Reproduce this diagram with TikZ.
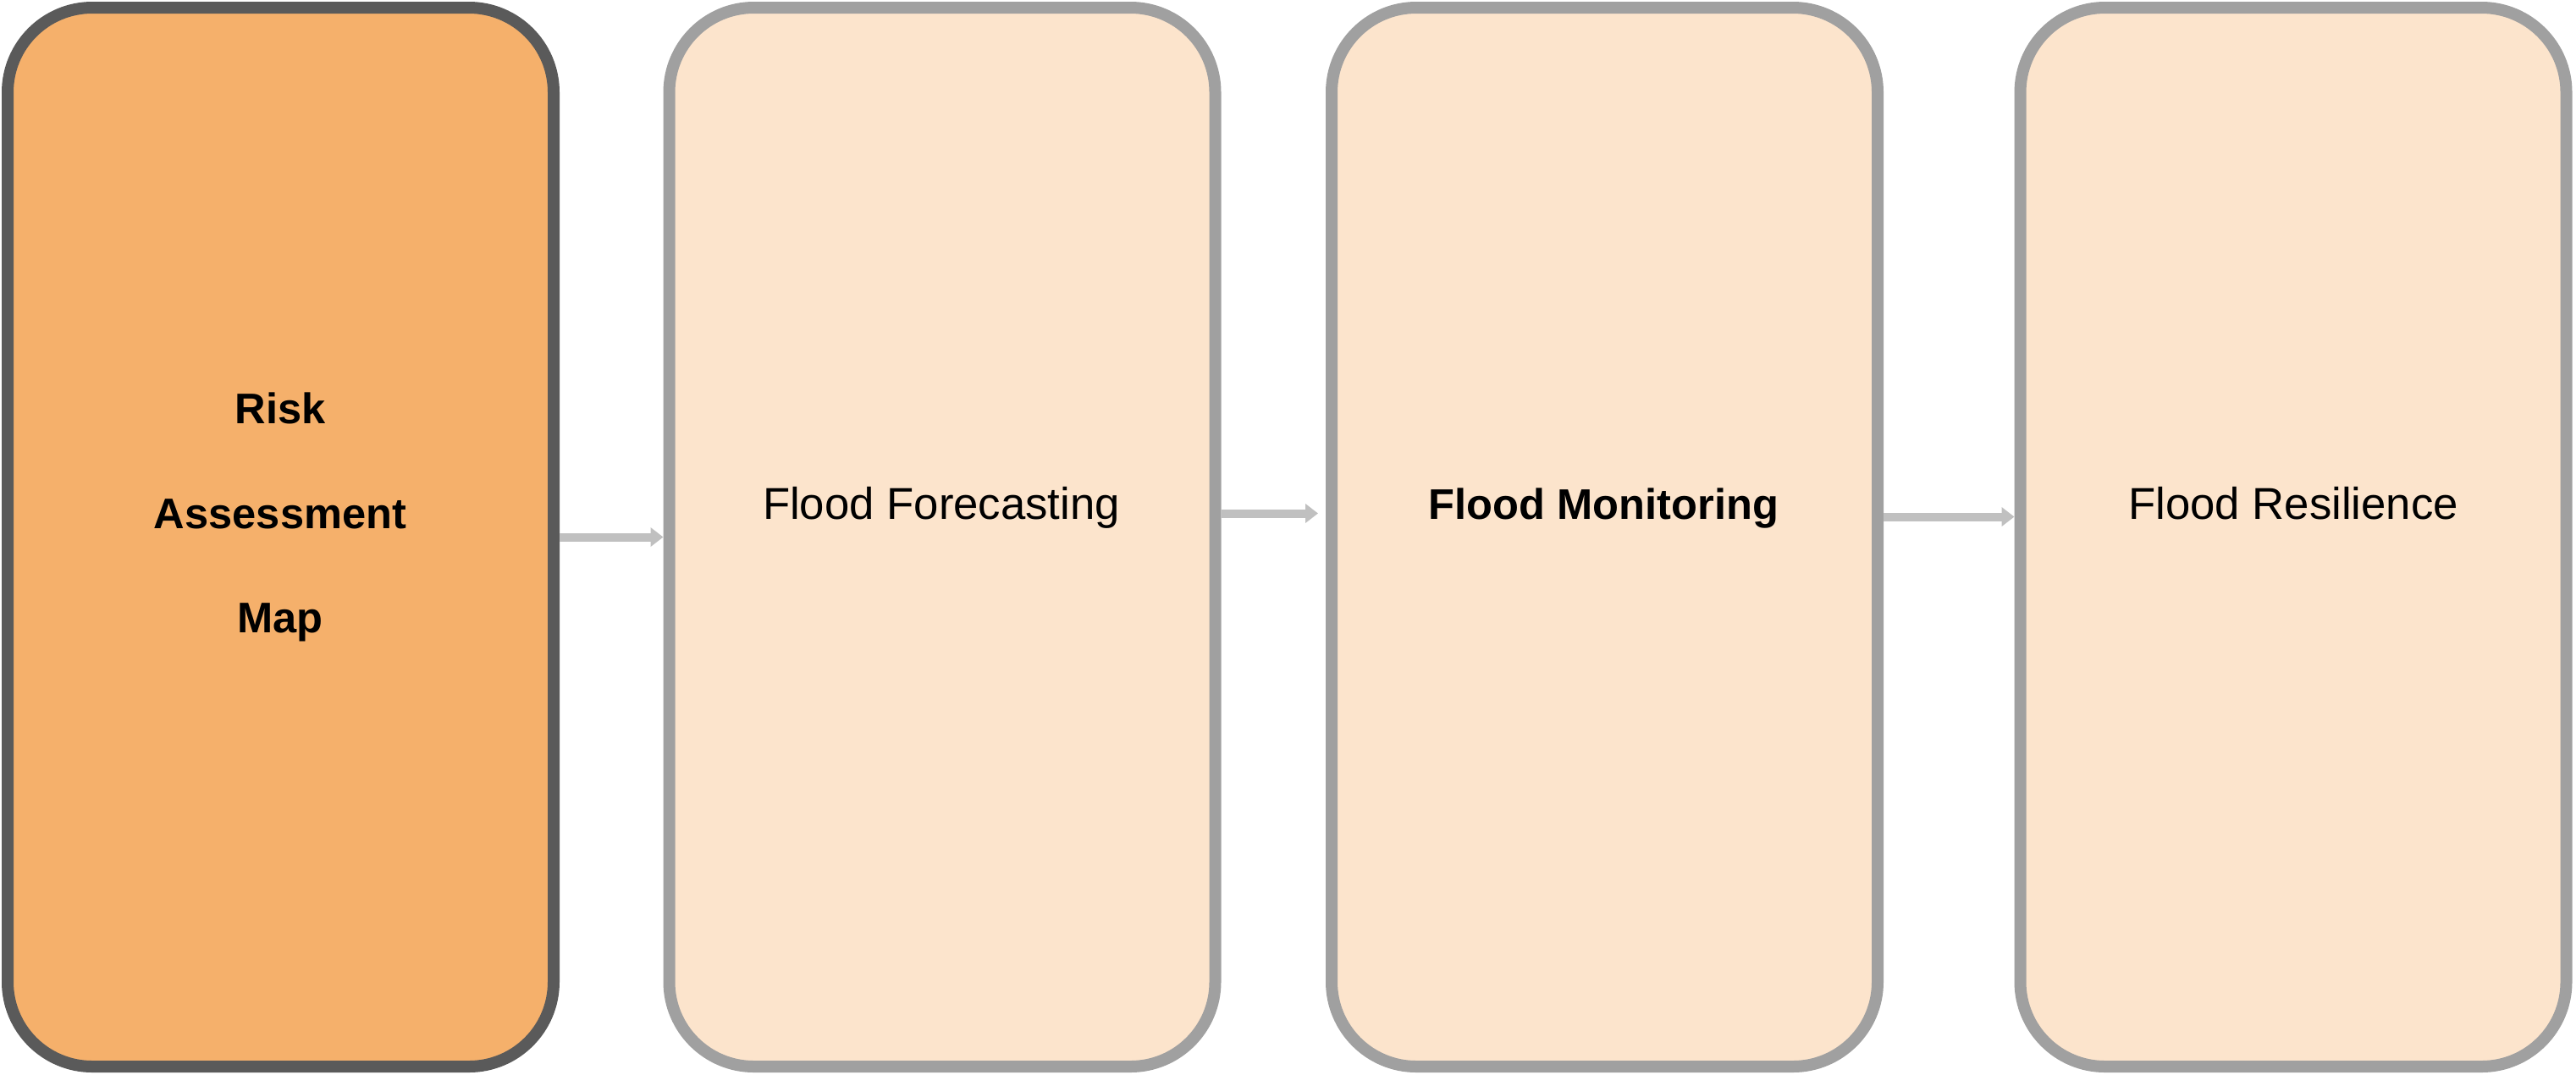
\documentclass[tikz,border=0pt]{standalone}
\usepackage{fontspec}
\setmainfont{Liberation Sans}
\usetikzlibrary{arrows.meta}
\definecolor{riskfill}{RGB}{245,176,107}
\definecolor{riskline}{RGB}{90,90,90}
\definecolor{stagefill}{RGB}{252,228,204}
\definecolor{stageline}{RGB}{160,160,160}
\definecolor{flowgray}{RGB}{192,192,192}
\begin{document}
\begin{tikzpicture}[
    stage/.style={rectangle, draw=stageline, fill=stagefill, line width=0.14cm, rounded corners=1cm, minimum width=6.45cm, minimum height=12.51cm, inner sep=0pt},
    riskbox/.style={stage, draw=riskline, fill=riskfill},
    plain/.style={anchor=base, inner sep=0pt, font=\fontsize{15}{18}\selectfont},
    strong/.style={anchor=base, inner sep=0pt, font=\fontsize{14.4}{17}\selectfont\bfseries},
    flow/.style={-{Triangle[length=0.15cm, width=0.22cm]}, draw=flowgray, line width=0.1cm}
]
    \useasboundingbox (0,0) rectangle (30.43,-12.69);

    \node[riskbox] (risk) at (3.315,-6.345) {};
    \node[stage] (forecast) at (11.13,-6.345) {};
    \node[stage] (monitor) at (18.955,-6.345) {};
    \node[stage] (resilience) at (27.09,-6.345) {};

    \node[strong, anchor=center, align=center, font=\fontsize{14.4}{35.2}\selectfont\bfseries] (risktext) at (3.31,-6.11) {Risk\\Assessment\\Map};
    \node[plain] (forecasttext) at (11.12,-6.13) {Flood Forecasting};
    \node[strong] (monitortext) at (18.945,-6.13) {Flood Monitoring};
    \node[plain] (resiliencetext) at (27.09,-6.13) {Flood Resilience};

    \draw[flow] (risk.east) -- (forecast.west);
    \draw[flow, shorten >=0.09cm] ([yshift=0.28cm]forecast.east) -- ([yshift=0.28cm]monitor.west);
    \draw[flow] ([yshift=0.24cm]monitor.east) -- ([yshift=0.24cm]resilience.west);
\end{tikzpicture}
\end{document}
